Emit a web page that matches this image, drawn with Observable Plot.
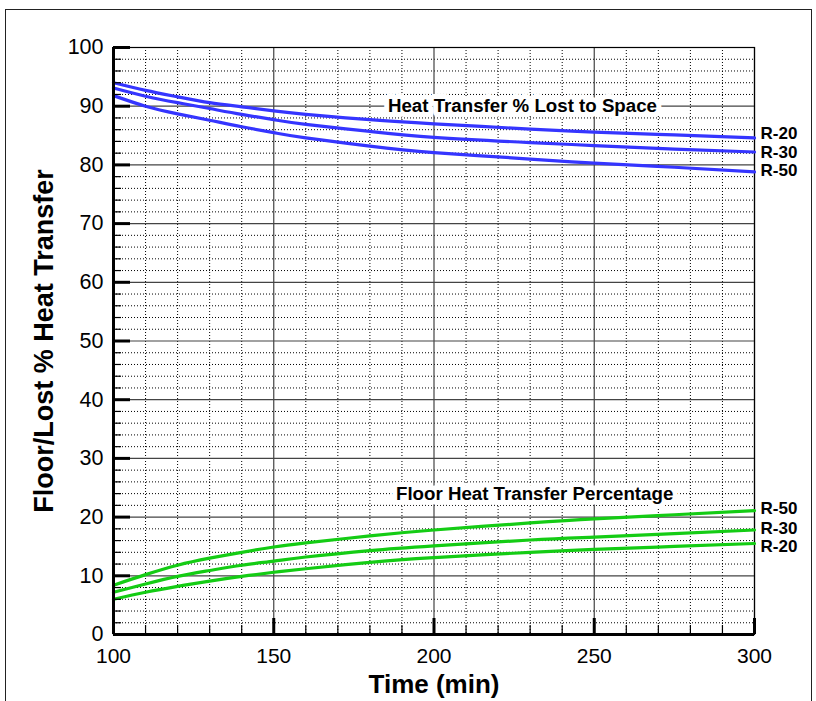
<!DOCTYPE html>
<html><head><meta charset="utf-8">
<script src="https://cdn.jsdelivr.net/npm/d3@7"></script>
<script src="https://cdn.jsdelivr.net/npm/@observablehq/plot@0.6"></script>
<style>
html,body{margin:0;padding:0;background:#fff;}
#wrap{position:relative;width:816px;height:701px;overflow:hidden;}
#frame{position:absolute;left:5px;top:9px;width:805px;height:720px;border:1.5px solid #222;pointer-events:none;}
</style></head><body><div id="wrap"><div id="frame"></div></div>
<script>
// ---- data ----
const times = [100,110,120,130,140,150,160,180,200,230,250,275,300];
const lostR20 = [94.0,92.7,91.6,90.6,89.9,89.2,88.6,87.7,87.0,86.1,85.6,85.1,84.6];
const lostR30 = [93.1,91.7,90.6,89.6,88.6,87.7,86.9,85.7,84.7,83.8,83.3,82.7,82.2];
const lostR50 = [91.8,90.0,88.7,87.6,86.5,85.5,84.6,83.2,82.1,81.0,80.3,79.6,78.8];
const floorR50 = [8.4,10.2,11.8,13.0,14.0,14.9,15.6,16.8,17.8,19.0,19.7,20.4,21.1];
const floorR30 = [7.2,8.6,9.9,10.9,11.8,12.5,13.2,14.3,15.1,16.1,16.6,17.2,17.8];
const floorR20 = [6.0,7.2,8.2,9.1,9.9,10.6,11.2,12.3,13.1,14.0,14.5,15.0,15.5];
const xTicks = [100,150,200,250,300];
const yTicks = [0,10,20,30,40,50,60,70,80,90,100];
const xLabel = "Time (min)";
const yLabel = "Floor/Lost % Heat Transfer";
const lostTitle = "Heat Transfer % Lost to Space";
const floorTitle = "Floor Heat Transfer Percentage";
const lostTitlePos = {x: 227.6, y: 90};
const floorTitlePos = {x: 231.4, y: 24};

// ---- build rows ----
const blue = "#3535ff", green = "#14cc14";
function rows(vals, name, group) { return times.map((t,i)=>({t, v: vals[i], name, group})); }
const lost = [...rows(lostR20,"R-20","lost"), ...rows(lostR30,"R-30","lost"), ...rows(lostR50,"R-50","lost")];
const floor = [...rows(floorR20,"R-20","floor"), ...rows(floorR30,"R-30","floor"), ...rows(floorR50,"R-50","floor")];
const ends = [...lost, ...floor].filter(d => d.t === times[times.length-1]);
// small vertical nudges (px) so end labels sit as in the reference
const nudge = {"lost R-20": -4, "lost R-30": 0.5, "lost R-50": -1, "floor R-50": -2, "floor R-30": -1.5, "floor R-20": 3.5};

const W=816, H=701, mL=113, mR=62, mT=47, mB=67;
const fw = W-mL-mR, fh = H-mT-mB;
const xMinor = d3.range(100, 301, 10).filter(d => !xTicks.includes(d));
const yMinor = d3.range(0, 101, 2).filter(d => !yTicks.includes(d));
const font = "Liberation Sans, Arial, Helvetica, sans-serif";

const chart = Plot.plot({
  width: W, height: H, marginLeft: mL, marginRight: mR, marginTop: mT, marginBottom: mB,
  style: {fontFamily: font, background: "transparent", overflow: "visible", color: "#000"},
  x: {domain: [100, 300]},
  y: {domain: [0, 100]},
  marks: [
    Plot.ruleX(xMinor, {stroke: "#000", strokeDasharray: "1,2", strokeWidth: 1}),
    Plot.ruleY(yMinor, {stroke: "#000", strokeDasharray: "1,2", strokeWidth: 1}),
    Plot.ruleX(xTicks, {stroke: "#444", strokeWidth: 1.2}),
    Plot.ruleY(yTicks, {stroke: "#444", strokeWidth: 1.2}),
    Plot.frame({stroke: "#000", strokeWidth: 1.2}),
    Plot.text([lostTitle], {x: lostTitlePos.x, y: lostTitlePos.y, fontSize: 18.7, fontWeight: "bold", stroke: "white", strokeWidth: 10, fill: "white", textAnchor: "middle"}),
    Plot.text([floorTitle], {x: floorTitlePos.x, y: floorTitlePos.y, fontSize: 18.7, fontWeight: "bold", stroke: "white", strokeWidth: 10, fill: "white", textAnchor: "middle"}),
    Plot.text([lostTitle], {x: lostTitlePos.x, y: lostTitlePos.y, fontSize: 18.7, fontWeight: "bold", fill: "#000", textAnchor: "middle"}),
    Plot.text([floorTitle], {x: floorTitlePos.x, y: floorTitlePos.y, fontSize: 18.7, fontWeight: "bold", fill: "#000", textAnchor: "middle"}),
    Plot.line(lost, {x: "t", y: "v", z: "name", stroke: blue, strokeWidth: 3.2, curve: "natural"}),
    Plot.line(floor, {x: "t", y: "v", z: "name", stroke: green, strokeWidth: 3.2, curve: "natural"}),
    ...ends.map(d => Plot.text([d], {x: "t", y: "v", text: "name", dx: 6, dy: nudge[d.group + " " + d.name], textAnchor: "start", fontSize: 17, fontWeight: "bold", fill: "#000"})),
    // axis lines
    Plot.ruleX([100], {strokeWidth: 3, stroke: "#000"}),
    Plot.ruleY([0], {strokeWidth: 3, stroke: "#000"}),
    // tick marks (inward)
    Plot.tickX(xTicks, {x: d => d, strokeWidth: 3, stroke: "#000", insetTop: fh - 16}),
    Plot.tickX(xMinor, {x: d => d, strokeWidth: 1.2, stroke: "#000", insetTop: fh - 9}),
    Plot.tickY(yTicks, {y: d => d, strokeWidth: 3, stroke: "#000", insetRight: fw - 17}),
    Plot.tickY(yMinor, {y: d => d, strokeWidth: 1.2, stroke: "#000", insetRight: fw - 8}),
    // axes labels
    Plot.axisX({ticks: xTicks, tickSize: 0, tickPadding: 14, fontSize: 21, label: null, tickFormat: d => String(d)}),
    Plot.axisY({ticks: yTicks, tickSize: 0, tickPadding: 10, fontSize: 21.5, label: null, tickFormat: d => String(d)}),
    Plot.text([xLabel], {frameAnchor: "bottom", dy: 50, fontSize: 26, fontWeight: "bold", fill: "#000", lineAnchor: "middle", textAnchor: "middle"}),
    Plot.text([yLabel], {frameAnchor: "left", dx: -69, rotate: -90, fontSize: 27, fontWeight: "bold", fill: "#000", lineAnchor: "middle", textAnchor: "middle"})
  ]
});
document.getElementById("wrap").prepend(chart);
</script>
</body></html>
